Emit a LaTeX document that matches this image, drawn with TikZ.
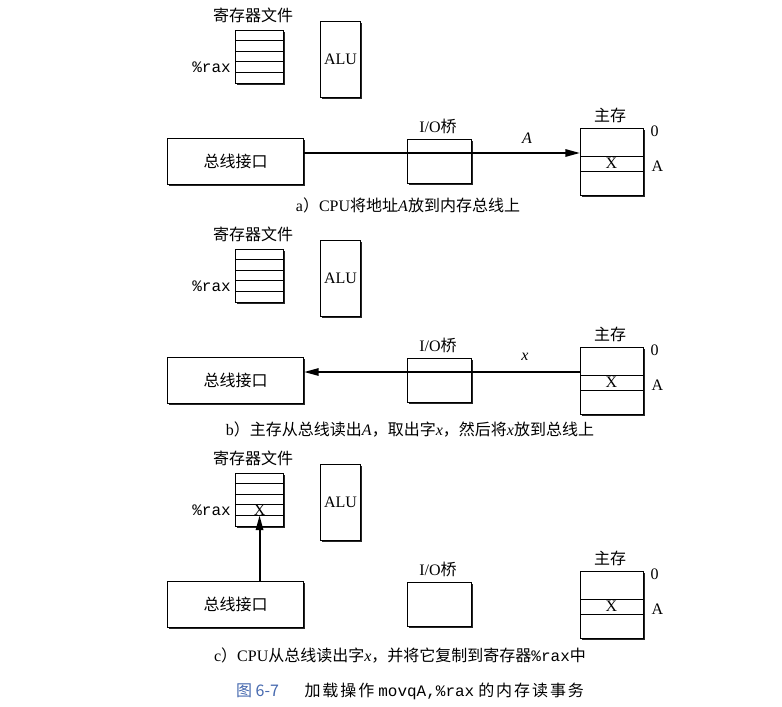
\documentclass[tikz,border=0pt]{standalone}
\usepackage{fontspec}
\setmainfont{Liberation Serif}
\setmonofont{Liberation Mono}
\newfontfamily\cjk{Noto Sans CJK SC}
\newfontfamily\cjkw[LetterSpace=12]{Noto Sans CJK SC}
\usetikzlibrary{shadows,arrows.meta}
\definecolor{figblue}{RGB}{70,105,175}
\newcommand\pxu{0.75pt}
\tikzset{
  box/.style={draw, line width=0.8pt, fill=white, inner sep=0pt, anchor=north west,
    drop shadow={shadow xshift=1.4pt, shadow yshift=-1.4pt, opacity=1, fill=black!85}},
  rowline/.style={line width=0.6pt},
  busline/.style={line width=1.5pt},
  bustip/.style={-{Triangle[length=11pt,width=5.5pt]}},
  lbl/.style={inner sep=1pt},
}
\newcommand\cpupanel[2]{%
\begin{scope}[shift={(0,#1)}]
  \node[lbl] (rft#2) at (253,15) {\cjk 寄存器文件};
  \node[box, minimum width=48*\pxu, minimum height=53*\pxu] (rf#2) at (235,30) {};
  \foreach \k in {1,...,4}
    \draw[rowline] ([yshift=-\k*10.6*\pxu]rf#2.north west) -- ([yshift=-\k*10.6*\pxu]rf#2.north east);
  \node[lbl, anchor=east] (rax#2) at ([yshift=-3.5*10.6*\pxu, xshift=-2pt]rf#2.north west) {\ttfamily\%rax};
  \node[box, minimum width=40*\pxu, minimum height=76*\pxu] (alu#2) at (320,21) {ALU};
  \node[box, minimum width=136*\pxu, minimum height=46*\pxu] (bus#2) at (167,138) {\cjk 总线接口};
  \node[box, minimum width=64*\pxu, minimum height=44*\pxu] (br#2) at (407,139) {};
  \node[lbl] (brt#2) at (438,126) {I/O{\cjk 桥}};
  \node[box, minimum width=63*\pxu, minimum height=67*\pxu] (mem#2) at (580,128) {};
  \draw[rowline] ([yshift=-28*\pxu]mem#2.north west) -- ([yshift=-28*\pxu]mem#2.north east);
  \draw[rowline] ([yshift=-43*\pxu]mem#2.north west) -- ([yshift=-43*\pxu]mem#2.north east);
  \node[lbl] (memt#2) at (610,115) {\cjk 主存};
  \node[lbl] (mx#2) at (611.5,163.5) {X};
  \node[lbl, anchor=west] (m0#2) at (649,131) {0};
  \node[lbl, anchor=west] (mA#2) at (650,166) {A};
  \coordinate (by#2) at (0,153);
\end{scope}}

\begin{document}
\begin{tikzpicture}[x=0.75pt, y=-0.75pt, every node/.style={font=\fontsize{12}{14}\selectfont}]
\useasboundingbox[fill=white] (0,0) rectangle (782,707);

% panel a
\cpupanel{0}{a}
\draw[busline, bustip] (busa.east |- bya) -- (mema.west |- bya);
\node[lbl] (lA) at (527,138) {\textit{A}};
\node[lbl] (capa) at (408,205) {a{\cjk ）}CPU{\cjk 将地址}\textit{A}{\cjk 放到内存总线上}};

% panel b
\cpupanel{219}{b}
\draw[busline, bustip] (memb.west |- byb) -- (busb.east |- byb);
\node[lbl] (lx) at (525,357) {\textit{x}};
\node[lbl] (capb) at (410,430) {b{\cjk ）主存从总线读出}\textit{A}{\cjk ，取出字}\textit{x}{\cjk ，然后将}\textit{x}{\cjk 放到总线上}};

% panel c
\cpupanel{443}{c}
\node[lbl] (rx) at ([yshift=-3.5*10.6*\pxu]rfc.north) {X};
\coordinate (raxb) at ([yshift=-4*10.6*\pxu]rfc.north);
\draw[busline, bustip] (busc.north -| raxb) -- (raxb);
\node[lbl] (capc) at (400,655) {c{\cjk ）}CPU{\cjk 从总线读出字}\textit{x}{\cjk ，并将它复制到寄存器}{\ttfamily\%rax}{\cjk 中}};

% figure caption
\node[lbl] (fig) at (410,691) {{\color{figblue}\cjk 图 6-7}\hspace{1.6em}{\cjkw 加载操作} {\ttfamily movqA,\%rax} {\cjkw 的内存读事务}};
\end{tikzpicture}
\end{document}
